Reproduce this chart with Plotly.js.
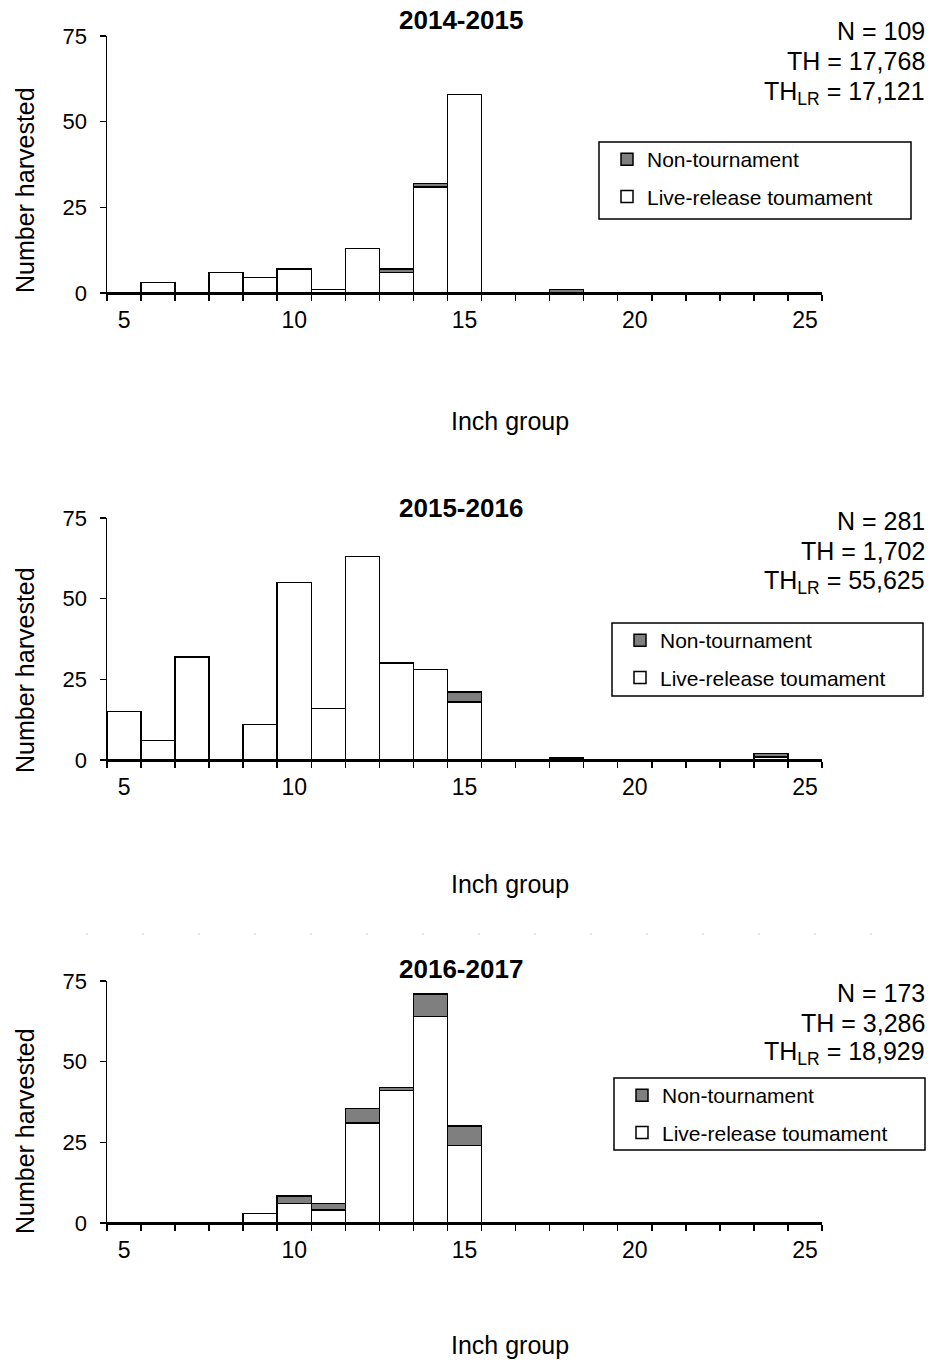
<!DOCTYPE html>
<html>
<head>
<meta charset="utf-8">
<script src="https://cdn.plot.ly/plotly-3.0.1.min.js"></script>
<style>
  html, body { margin: 0; padding: 0; background: #fff; }
  #chart { width: 930px; height: 1360px; }
</style>
</head>
<body>
<div id="chart"></div>
<script>
// ---- Data ----
const inchGroups = [5,6,7,8,9,10,11,12,13,14,15,16,17,18,19,20,21,22,23,24,25];
const tickLabels = [5,10,15,20,25];
const seasons = ["2014-2015", "2015-2016", "2016-2017"];
const seriesNames = ["Non-tournament", "Live-release toumament"];

// 2014-2015
const live2014 = [0,3,0,6,4.5,7,1,13,6,31,58,0,0,0,0,0,0,0,0,0,0];
const non2014  = [0,0,0,0,0,0,0,0,1,1,0,0,0,1,0,0,0,0,0,0,0];
// 2015-2016
const live2015 = [15,6,32,0,11,55,16,63,30,28,18,0,0,0,0,0,0,0,0,1,0];
const non2015  = [0,0,0,0,0,0,0,0,0,0,3,0,0,0.6,0,0,0,0,0,1,0];
// 2016-2017
const live2016 = [0,0,0,0,3,6,4,31,41,64,24,0,0,0,0,0,0,0,0,0,0];
const non2016  = [0,0,0,0,0,2.4,2,4.5,1,7,6,0,0,0,0,0,0,0,0,0,0];

const statN  = ["109", "281", "173"];
const statTH = ["17,768", "1,702", "3,286"];
const statLR = ["17,121", "55,625", "18,929"];

// ---- Build ----
const FONT = "Liberation Sans, Arial, sans-serif";
const W = 930, H = 1360;
const px = v => v / W;
const py = v => 1 - v / H;

const liveData = [live2014, live2015, live2016];
const nonData = [non2014, non2015, non2016];
const bounds = inchGroups.map(v => v - 0.5).concat([inchGroups[inchGroups.length - 1] + 0.5]);

// panel geometry (pixels)
const panels = [
  {top: 36, bottom: 293, title: 20, xt: 421, yt: 190, stats: [31, 61, 91], box: [599, 142, 911, 219]},
  {top: 518, bottom: 760, title: 508, xt: 884, yt: 670, stats: [521, 551, 580], box: [612, 623, 923, 696]},
  {top: 981, bottom: 1223, title: 969, xt: 1345, yt: 1131, stats: [993, 1023, 1051], box: [614, 1078, 925, 1150]}
];

const traces = [];
const layout = {
  width: W, height: H,
  margin: {l: 0, r: 0, t: 0, b: 0},
  paper_bgcolor: "#fff", plot_bgcolor: "#fff",
  barmode: "stack", bargap: 0,
  font: {family: FONT, color: "#000", size: 22},
  annotations: [],
  shapes: [{
    type: "line", xref: "paper", yref: "paper",
    x0: px(86), x1: px(885), y0: py(934), y1: py(934),
    line: {color: "#d0d0d0", width: 1, dash: "2px,54px"}
  }],
  showlegend: true
};

panels.forEach((p, i) => {
  const sfx = i === 0 ? "" : String(i + 1);
  const xa = "x" + sfx, ya = "y" + sfx;
  const legName = "legend" + sfx;
  traces.push({
    type: "bar", x: inchGroups, y: liveData[i], width: 1,
    name: seriesNames[1], xaxis: xa, yaxis: ya, legend: legName,
    legendgroup: "lr" + i, legendrank: 2,
    marker: {color: "#ffffff", line: {color: "#000", width: 1.5}},
    hoverinfo: "skip"
  });
  traces.push({
    type: "bar", x: inchGroups, y: nonData[i], width: 1,
    name: seriesNames[0], xaxis: xa, yaxis: ya, legend: legName,
    legendgroup: "nt" + i, legendrank: 1,
    marker: {color: "#7f7f7f", line: {color: "#000", width: 1.5}},
    hoverinfo: "skip"
  });

  layout["xaxis" + sfx] = {
    domain: [px(107), px(822)],
    anchor: ya,
    range: [bounds[0], bounds[bounds.length - 1]],
    tickmode: "array", tickvals: tickLabels, ticktext: tickLabels.map(String),
    ticks: "", showgrid: false, zeroline: false,
    showline: true, linecolor: "#000", linewidth: 1.5,
    ticklabelstandoff: 6,
    tickfont: {size: 23, family: FONT, color: "#000"},
    minor: {ticks: "outside", tickmode: "array", tickvals: bounds, ticklen: 6, tickwidth: 1.5, tickcolor: "#000", showgrid: false},
    fixedrange: true
  };
  layout["yaxis" + sfx] = {
    domain: [py(p.bottom), py(p.top)],
    anchor: xa,
    range: [0, 75],
    tickmode: "array", tickvals: [0, 25, 50, 75],
    ticks: "outside", ticklen: 6, tickwidth: 1.5, tickcolor: "#000",
    showgrid: false, zeroline: false,
    showline: true, linecolor: "#000", linewidth: 1.5,
    ticklabelstandoff: 8,
    tickfont: {size: 22, family: FONT, color: "#000"},
    fixedrange: true
  };
  // legend frame drawn as a paper-space rectangle
  const b = p.box;
  layout.shapes.push({
    type: "rect", xref: "paper", yref: "paper",
    x0: px(b[0]), x1: px(b[2]), y0: py(b[3]), y1: py(b[1]),
    line: {color: "#000", width: 1.5}, fillcolor: "rgba(0,0,0,0)", layer: "above"
  });
  layout[legName] = {
    x: px(b[0] + 8), y: py(b[1] - 3), xanchor: "left", yanchor: "top",
    borderwidth: 0, bgcolor: "rgba(0,0,0,0)",
    font: {size: 21, family: FONT, color: "#000"},
    traceorder: "grouped", tracegroupgap: 7,
    itemclick: false, itemdoubleclick: false
  };

  // panel title
  layout.annotations.push({
    xref: "paper", yref: "paper", x: px(461), y: py(p.title),
    text: "<b>" + seasons[i] + "</b>", showarrow: false,
    xanchor: "center", yanchor: "middle",
    font: {size: 26, family: FONT, color: "#000"}
  });
  // x axis title
  layout.annotations.push({
    xref: "paper", yref: "paper", x: px(510), y: py(p.xt),
    text: "Inch group", showarrow: false,
    xanchor: "center", yanchor: "middle",
    font: {size: 25, family: FONT, color: "#000"}
  });
  // y axis title
  layout.annotations.push({
    xref: "paper", yref: "paper", x: px(25), y: py(p.yt),
    text: "Number harvested", showarrow: false, textangle: -90,
    xanchor: "center", yanchor: "middle",
    font: {size: 25, family: FONT, color: "#000"}
  });
  // stats (one line each)
  const statLines = ["N = " + statN[i], "TH = " + statTH[i], "TH<sub>LR</sub> = " + statLR[i]];
  statLines.forEach((t, k) => {
    layout.annotations.push({
      xref: "paper", yref: "paper", x: px(927), y: py(p.stats[k] + (k === 2 ? 2 : 0)),
      text: t, showarrow: false, align: "right",
      xanchor: "right", yanchor: "middle",
      font: {size: 25, family: FONT, color: "#000"}
    });
  });
});

Plotly.newPlot("chart", traces, layout, {displayModeBar: false, staticPlot: true});
</script>
</body>
</html>
